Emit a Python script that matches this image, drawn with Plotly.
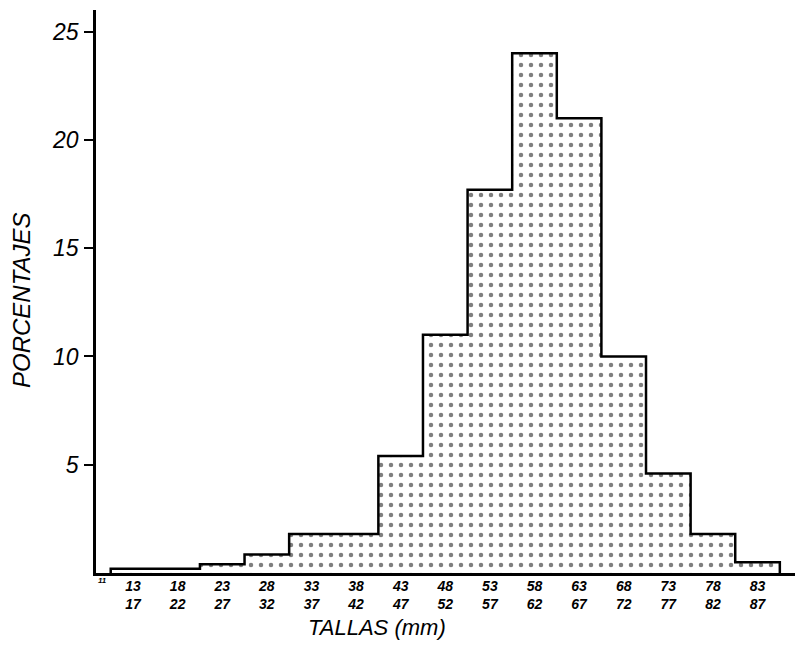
import plotly.graph_objects as go

# Data
bin_lo = [13, 18, 23, 28, 33, 38, 43, 48, 53, 58, 63, 68, 73, 78, 83]
bin_hi = [17, 22, 27, 32, 37, 42, 47, 52, 57, 62, 67, 72, 77, 82, 87]
percent = [0.2, 0.2, 0.4, 0.85, 1.8, 1.8, 5.4, 11.0, 17.7, 24.0, 21.0, 10.0, 4.6, 1.8, 0.5]

centers = [(a + b) / 2 for a, b in zip(bin_lo, bin_hi)]
edges_left = [c - 2.5 for c in centers]
tick_text = [f"{a}<br>{b}" for a, b in zip(bin_lo, bin_hi)]

font_it = dict(family="Liberation Sans, Arial, sans-serif", color="black", style="italic")

fig = go.Figure()
fig.add_trace(go.Bar(
    x=centers, y=percent, width=5,
    marker=dict(color="white", line=dict(width=0),
                pattern=dict(shape=".", fgcolor="black", bgcolor="white",
                             size=10, solidity=0.16, fillmode="overlay")),
    hoverinfo="skip", showlegend=False,
))
# Outline (step)
step_x = edges_left + [edges_left[-1] + 5]
step_y = percent + [percent[-1]]
fig.add_trace(go.Scatter(
    x=[edges_left[0]] + step_x + [step_x[-1]],
    y=[0] + step_y + [0],
    mode="lines", line=dict(color="black", width=2.5, shape="hv"),
    hoverinfo="skip", showlegend=False,
))

fig.update_layout(
    width=799, height=646,
    margin=dict(l=96, r=4, t=10, b=73),
    plot_bgcolor="white", paper_bgcolor="white",
    bargap=0,
    xaxis=dict(range=[10.85, 89.2], tickvals=centers, ticktext=tick_text,
               showgrid=False, zeroline=False, showline=True, linecolor="black",
               linewidth=2.5, ticks="", ticklen=0, ticklabelstandoff=-2,
               tickfont=dict(size=14, weight="bold", **font_it)),
    yaxis=dict(range=[0, 26], tickvals=[5, 10, 15, 20, 25],
               showgrid=False, zeroline=False, showline=True, linecolor="black",
               linewidth=2.5, ticks="outside", ticklen=9, tickwidth=1.5,
               tickcolor="black", ticklabelstandoff=1,
               tickfont=dict(size=23, **font_it)),
)
fig.add_annotation(text="PORCENTAJES", xref="paper", yref="paper",
                   x=(22 - 96) / 699, y=(573 - 300) / 563, xanchor="center", yanchor="middle",
                   showarrow=False, textangle=-90, font=dict(size=24, **font_it))
fig.add_annotation(text="TALLAS (mm)", xref="paper", yref="paper",
                   x=(377 - 96) / 699, y=(573 - 627) / 563, xanchor="center", yanchor="middle",
                   showarrow=False, font=dict(size=22, **font_it))
fig.add_annotation(text="11", xref="x", yref="paper", x=11.6, y=(573 - 580) / 563,
                   showarrow=False, xanchor="center", yanchor="middle",
                   font=dict(size=8, weight="bold", **font_it))

fig.write_html("out.html")
